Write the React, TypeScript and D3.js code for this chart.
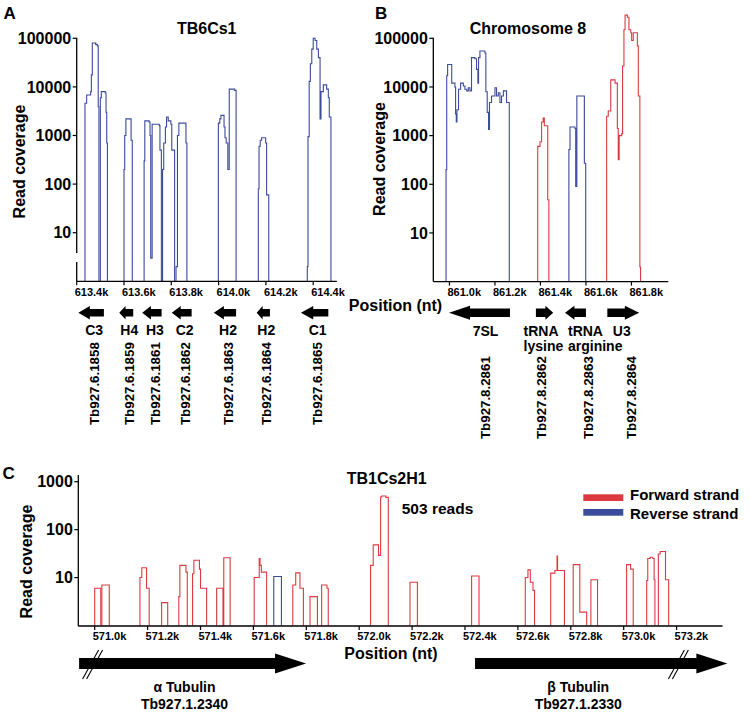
import React from "react";
import * as d3 from "d3";

// ---------- Data ----------
type Seg = [number, number][];

// Panel A: TB6Cs1 (reverse strand only)
const tb6Reverse: Seg[] = [
  [[613435,4600],[613442,6800],[613459,8000],[613462,17700],[613466,80000],[613480,75000],[613487,70000],[613491,3900],[613494,1]],
  [[613500,6000],[613504,8000],[613521,7500],[613524,3000],[613527,700],[613530,1]],
  [[613600,200],[613603,1000],[613608,2200],[613630,800],[613635,1]],
  [[613685,300],[613688,2000],[613706,1900],[613710,1000],[613713,3],[613719,1700],[613749,1600],[613752,500],[613758,1]],
  [[613763,200],[613768,700],[613775,1500],[613780,2400],[613787,2000],[613798,1700],[613802,500],[613814,1]],
  [[613820,2],[613826,1000],[613832,1800],[613862,700],[613866,1]],
  [[613999,1800],[614005,2200],[614010,2600],[614023,1500],[614027,900],[614032,700],[614039,200],[614045,9000],[614068,8500],[614074,1]],
  [[614168,80],[614171,600],[614176,800],[614182,900],[614199,700],[614203,60],[614212,1]],
  [[614375,2],[614378,950],[614383,13000],[614388,30000],[614394,60000],[614400,100000],[614408,90000],[614415,60000],[614422,40000],[614429,2200],[614433,8000],[614443,11000],[614457,9000],[614464,6000],[614468,2400],[614475,1]],
];
const tb6Ticks = [613400, 613600, 613800, 614000, 614200, 614400];
const tb6TickLabels = ["613.4k", "613.6k", "613.8k", "614.0k", "614.2k", "614.4k"];
const tb6Genes = [
  { name: "C3", id: "Tb927.6.1858", start: 613407, end: 613515, strand: "-" },
  { name: "H4", id: "Tb927.6.1859", start: 613580, end: 613639, strand: "-" },
  { name: "H3", id: "Tb927.6.1861", start: 613677, end: 613759, strand: "-" },
  { name: "C2", id: "Tb927.6.1862", start: 613802, end: 613886, strand: "-" },
  { name: "H2", id: "Tb927.6.1863", start: 613980, end: 614074, strand: "-" },
  { name: "H2", id: "Tb927.6.1864", start: 614161, end: 614217, strand: "-" },
  { name: "C1", id: "Tb927.6.1865", start: 614348, end: 614464, strand: "-" },
];

// Panel B: Chromosome 8
const chr8Reverse: Seg[] = [
  [[860985,200],[860988,17000],[860992,29000],[861010,12000],[861024,10000],[861027,2800],[861030,1900],[861033,3400],[861040,9000],[861049,12000],[861061,10500],[861068,9000],[861076,8300],[861083,9600],[861090,8300],[861097,40000],[861112,38000],[861119,23000],[861125,12000],[861128,40000],[861134,55000],[861156,50000],[861160,8000],[861166,3000],[861172,1340],[861176,4800],[861185,6500],[861200,9600],[861207,6500],[861215,7600],[861222,4800],[861229,6500],[861237,8300],[861251,4800],[861263,1]],
  [[861525,520],[861530,1500],[861552,1400],[861555,90],[861560,6500],[861588,6500],[861593,270],[861599,1]],
];
const chr8Forward: Seg[] = [
  [[861388,600],[861398,750],[861405,1900],[861412,2300],[861417,1600],[861432,48],[861437,1]],
  [[861691,2500],[861698,3200],[861709,14000],[861728,12000],[861738,1400],[861742,320],[861746,1000],[861757,1100],[861761,27000],[861767,150000],[861772,300000],[861782,270000],[861789,150000],[861797,130000],[861801,90000],[861808,130000],[861826,70000],[861830,6500],[861837,2],[861840,1]],
];
const chr8Ticks = [861000, 861200, 861400, 861600, 861800];
const chr8TickLabels = ["861.0k", "861.2k", "861.4k", "861.6k", "861.8k"];
const chr8Genes = [
  { name: ["7SL"], id: "Tb927.8.2861", start: 860998, end: 861266, strand: "-" },
  { name: ["tRNA", "lysine"], id: "Tb927.8.2862", start: 861380, end: 861456, strand: "+" },
  { name: ["tRNA", "arginine"], id: "Tb927.8.2863", start: 861508, end: 861600, strand: "-" },
  { name: ["U3"], id: "Tb927.8.2864", start: 861694, end: 861834, strand: "+" },
];

// Panel C: TB1Cs2H1
const tb1Forward: Seg[] = [
  [[571000,6],[571023,1]],
  [[571027,7],[571055,1]],
  [[571171,10],[571178,16],[571196,6],[571206,1]],
  [[571253,3],[571276,1]],
  [[571318,4],[571322,18],[571345,13],[571350,1]],
  [[571370,12],[571375,23],[571396,15],[571400,6],[571423,1]],
  [[571461,6],[571485,1],[571488,26],[571512,1]],
  [[571603,10],[571622,25],[571625,18],[571630,13],[571650,1]],
  [[571749,7],[571760,12.5],[571776,6],[571789,1]],
  [[571814,4],[571842,1]],
  [[571858,7],[571878,6],[571883,1]],
  [[572043,18],[572053,48],[572073,29],[572081,480],[572085,503],[572101,470],[572110,1]],
  [[572192,8],[572220,1]],
  [[572425,10.8],[572453,1]],
  [[572628,10],[572638,14.5],[572647,8],[572657,5.4],[572663,1]],
  [[572724,12.4],[572740,14],[572748,28],[572750,14],[572776,1]],
  [[572809,18.6],[572834,1.9],[572860,1]],
  [[572876,9],[572901,1]],
  [[573011,18.6],[573026,15],[573036,1]],
  [[573087,8.7],[573091,25],[573100,26.5],[573110,25],[573115,9],[573118,1]],
  [[573131,31],[573138,35],[573158,9],[573170,1]],
];
const tb1Reverse: Seg[] = [
  [[571677,10.5],[571706,1]],
];
const tb1Ticks = [571000, 571200, 571400, 571600, 571800, 572000, 572200, 572400, 572600, 572800, 573000, 573200];
const tb1TickLabels = ["571.0k","571.2k","571.4k","571.6k","571.8k","572.0k","572.2k","572.4k","572.6k","572.8k","573.0k","573.2k"];
const tb1Genes = [
  { name: "α Tubulin", id: "Tb927.1.2340", start: 570941, end: 571799, strand: "+" },
  { name: "β Tubulin", id: "Tb927.1.2330", start: 572438, end: 573392, strand: "+" },
];

const yTicksAB = [10, 100, 1000, 10000, 100000];
const yTicksC = [10, 100, 1000];
const legendItems = ["Forward strand", "Reverse strand"];

// ---------- Layout / style ----------
const FONT = "'Liberation Sans', Arial, Helvetica, sans-serif";
const RED = "#dc3a40";
const BLUE = "#3c4b9b";
const chr8LabelLayout = [
  { dx: 6, anchor: "middle", idDx: 6 },
  { dx: -21, anchor: "start", idDx: -3 },
  { dx: -7.5, anchor: "start", idDx: 13 },
  { dx: -1.5, anchor: "middle", idDx: 8 },
];
const tb1LabelDx = [-8, -23];
const tb1SlashDx = [13.5, -49];

const xA = d3.scaleLinear().domain([613400, 614500]).range([76.7, 336.85]);
const yA = d3.scaleLog().domain([1, 100000]).range([281.3, 38.3]);
const xB = d3.scaleLinear().domain([860929, 861962]).range([433.3, 668.3]);
const yB = d3.scaleLog().domain([1, 100000]).range([281.6, 38.3]);
const xC = d3.scaleLinear().domain([571000, 573000]).range([94.7, 623.7]);
const yC = d3.scaleLog().domain([1, 1000]).range([625.5, 481.7]);

function Coverage({ segs, x, y, color }: { segs: Seg[]; x: any; y: any; color: string }) {
  const line = d3
    .line<[number, number]>()
    .x((d) => x(d[0]))
    .y((d) => y(d[1]))
    .curve(d3.curveStepAfter);
  return (
    <g>
      {segs.map((s, i) => {
        const pts: [number, number][] = [[s[0][0], 1], ...s];
        return <path key={i} d={line(pts) || ""} fill="none" stroke={color} strokeWidth={1.1} />;
      })}
    </g>
  );
}

function arrowPath(x0: number, x1: number, dir: string, cy: number, sh: number, hh: number, hl: number) {
  if (dir === "-") {
    return `M${x0},${cy} L${x0 + hl},${cy - hh} L${x0 + hl},${cy - sh} L${x1},${cy - sh} L${x1},${cy + sh} L${x0 + hl},${cy + sh} L${x0 + hl},${cy + hh} Z`;
  }
  return `M${x1},${cy} L${x1 - hl},${cy - hh} L${x1 - hl},${cy - sh} L${x0},${cy - sh} L${x0},${cy + sh} L${x1 - hl},${cy + sh} L${x1 - hl},${cy + hh} Z`;
}

function XAxis({ x, y0, x0, x1, ticks, labels, labelY }: any) {
  return (
    <g>
      <line x1={x0} x2={x1} y1={y0} y2={y0} stroke="#000" strokeWidth={1.3} />
      {ticks.map((t: number, i: number) => (
        <g key={i}>
          <line x1={x(t)} x2={x(t)} y1={y0} y2={y0 + 4} stroke="#000" strokeWidth={1.2} />
          <text x={x(t) - 2} y={labelY} fontSize={11} fontWeight="bold" fontFamily={FONT} textAnchor="start">
            {labels[i]}
          </text>
        </g>
      ))}
    </g>
  );
}

function YAxis({ y, x0, ticks, top, bottom, brk }: any) {
  return (
    <g>
      {brk ? (
        <>
          <line x1={x0} x2={x0} y1={top} y2={brk[0]} stroke="#000" strokeWidth={1.3} />
          <line x1={x0} x2={x0} y1={brk[1]} y2={bottom} stroke="#000" strokeWidth={1.3} />
        </>
      ) : (
        <line x1={x0} x2={x0} y1={top} y2={bottom} stroke="#000" strokeWidth={1.3} />
      )}
      {ticks.map((t: number, i: number) => (
        <g key={i}>
          <line x1={x0 - 4} x2={x0} y1={y(t)} y2={y(t)} stroke="#000" strokeWidth={1.2} />
          <text x={x0 - 5.5} y={y(t)} dy="0.36em" fontSize={16} fontWeight="bold" fontFamily={FONT} textAnchor="end">
            {String(t)}
          </text>
        </g>
      ))}
    </g>
  );
}

function RotLabel({ x, y, text, size = 16, weight = "bold", anchor = "middle" }: any) {
  return (
    <text
      transform={`translate(${x},${y}) rotate(-90)`}
      fontSize={size}
      fontWeight={weight}
      fontFamily={FONT}
      textAnchor={anchor}
      dy="0.36em"
    >
      {text}
    </text>
  );
}

export default function App() {
  const arrowCY = 312.7;
  return (
    <svg
      width={750}
      height={712}
      style={{ position: "absolute", left: 0, top: 0, background: "#fff" }}
      fontFamily={FONT}
    >
      <rect x={0} y={0} width={750} height={712} fill="#fff" />

      {/* ---------------- Panel A ---------------- */}
      <text x={3.5} y={19} fontSize={17} fontWeight="bold">A</text>
      <text x={206.7} y={28.3} dy="0.36em" fontSize={16} fontWeight="bold" textAnchor="middle">TB6Cs1</text>
      <RotLabel x={19.5} y={161.5} text="Read coverage" />
      <Coverage segs={tb6Reverse} x={xA} y={yA} color={BLUE} />
      <YAxis y={yA} x0={76.7} ticks={yTicksAB} top={37.7} bottom={281.3} brk={[253, 262]} />
      <XAxis x={xA} y0={281.3} x0={76.7} x1={336.85} ticks={tb6Ticks} labels={tb6TickLabels} labelY={295.7} />
      {tb6Genes.map((g, i) => {
        const x0 = xA(g.start), x1 = xA(g.end);
        const hl = Math.min((x1 - x0) * 0.45, 21);
        const cx = (x0 + x1) / 2 + 3;
        return (
          <g key={i}>
            <path d={arrowPath(x0, x1, g.strand, arrowCY, 3.8, 6.8, hl)} fill="#000" />
            <text x={cx} y={334.5} fontSize={14} fontWeight="bold" textAnchor="middle">{g.name}</text>
            <RotLabel x={cx} y={425} text={g.id} size={13.3} weight="bold" anchor="start" />
          </g>
        );
      })}

      {/* ---------------- Panel B ---------------- */}
      <text x={375} y={18.5} fontSize={17} fontWeight="bold">B</text>
      <text x={528} y={28.3} dy="0.36em" fontSize={16} fontWeight="bold" textAnchor="middle">Chromosome 8</text>
      <RotLabel x={379.5} y={159} text="Read coverage" />
      <Coverage segs={chr8Reverse} x={xB} y={yB} color={BLUE} />
      <Coverage segs={chr8Forward} x={xB} y={yB} color={RED} />
      <YAxis y={yB} x0={433.3} ticks={yTicksAB} top={37.7} bottom={281.6} />
      <XAxis x={xB} y0={281.6} x0={433.3} x1={668.3} ticks={chr8Ticks} labels={chr8TickLabels} labelY={295.7} />
      <text x={395.5} y={305} dy="0.36em" fontSize={16} fontWeight="bold" textAnchor="middle">Position (nt)</text>
      {chr8Genes.map((g, i) => {
        const x0 = xB(g.start), x1 = xB(g.end);
        const hl = Math.min((x1 - x0) * 0.45, 21);
        const mid = (x0 + x1) / 2;
        const L = chr8LabelLayout[i];
        return (
          <g key={i}>
            <path d={arrowPath(x0, x1, g.strand, arrowCY, 4.2, 7, hl)} fill="#000" />
            {g.name.map((n, j) => (
              <text key={j} x={mid + L.dx} y={336 + j * 15} fontSize={14} fontWeight="bold" textAnchor={L.anchor}>{n}</text>
            ))}
            <RotLabel x={mid + L.idDx} y={439} text={g.id} size={13.3} weight="bold" anchor="start" />
          </g>
        );
      })}

      {/* ---------------- Panel C ---------------- */}
      <text x={2.5} y={479} fontSize={17} fontWeight="bold">C</text>
      <text x={386.7} y={478.3} dy="0.36em" fontSize={16} fontWeight="bold" textAnchor="middle">TB1Cs2H1</text>
      <text x={437.5} y={508.3} dy="0.36em" fontSize={15.5} fontWeight="bold" textAnchor="middle">503 reads</text>
      <RotLabel x={26} y={561.5} text="Read coverage" />
      <Coverage segs={tb1Forward} x={xC} y={yC} color={RED} />
      <Coverage segs={tb1Reverse} x={xC} y={yC} color={BLUE} />
      <YAxis y={yC} x0={78.3} ticks={yTicksC} top={475} bottom={626} />
      <XAxis x={xC} y0={626} x0={78.3} x1={722.5} ticks={tb1Ticks} labels={tb1TickLabels} labelY={640} />
      <text x={391} y={653} dy="0.36em" fontSize={16} fontWeight="bold" textAnchor="middle">Position (nt)</text>
      {legendItems.map((t, i) => (
        <g key={i}>
          <rect x={583.3} y={494.3 + i * 14.7} width={40} height={6.7} fill={i === 0 ? RED : BLUE} />
          <text x={630} y={495 + i * 18.3} dy="0.36em" fontSize={15} fontWeight="bold">{t}</text>
        </g>
      ))}
      {tb1Genes.map((g, i) => {
        const x0 = xC(g.start), x1 = xC(g.end);
        const mid = (x0 + x1) / 2 + tb1LabelDx[i];
        const sx = (i === 0 ? x0 : x1) + tb1SlashDx[i];
        return (
          <g key={i}>
            <path d={arrowPath(x0, x1, g.strand, 663.5, 5.5, 10, 31)} fill="#000" />
            {[0, 4].map((o) => (
              <line key={o} x1={sx + 8 + o - 2} y1={650} x2={sx - 8 + o - 2} y2={679} stroke="#000" strokeWidth={1.1} />
            ))}
            <text x={mid} y={686.7} dy="0.36em" fontSize={14} fontWeight="bold" textAnchor="middle">{g.name}</text>
            <text x={mid} y={704.3} dy="0.36em" fontSize={14} fontWeight="bold" textAnchor="middle">{g.id}</text>
          </g>
        );
      })}
    </svg>
  );
}
